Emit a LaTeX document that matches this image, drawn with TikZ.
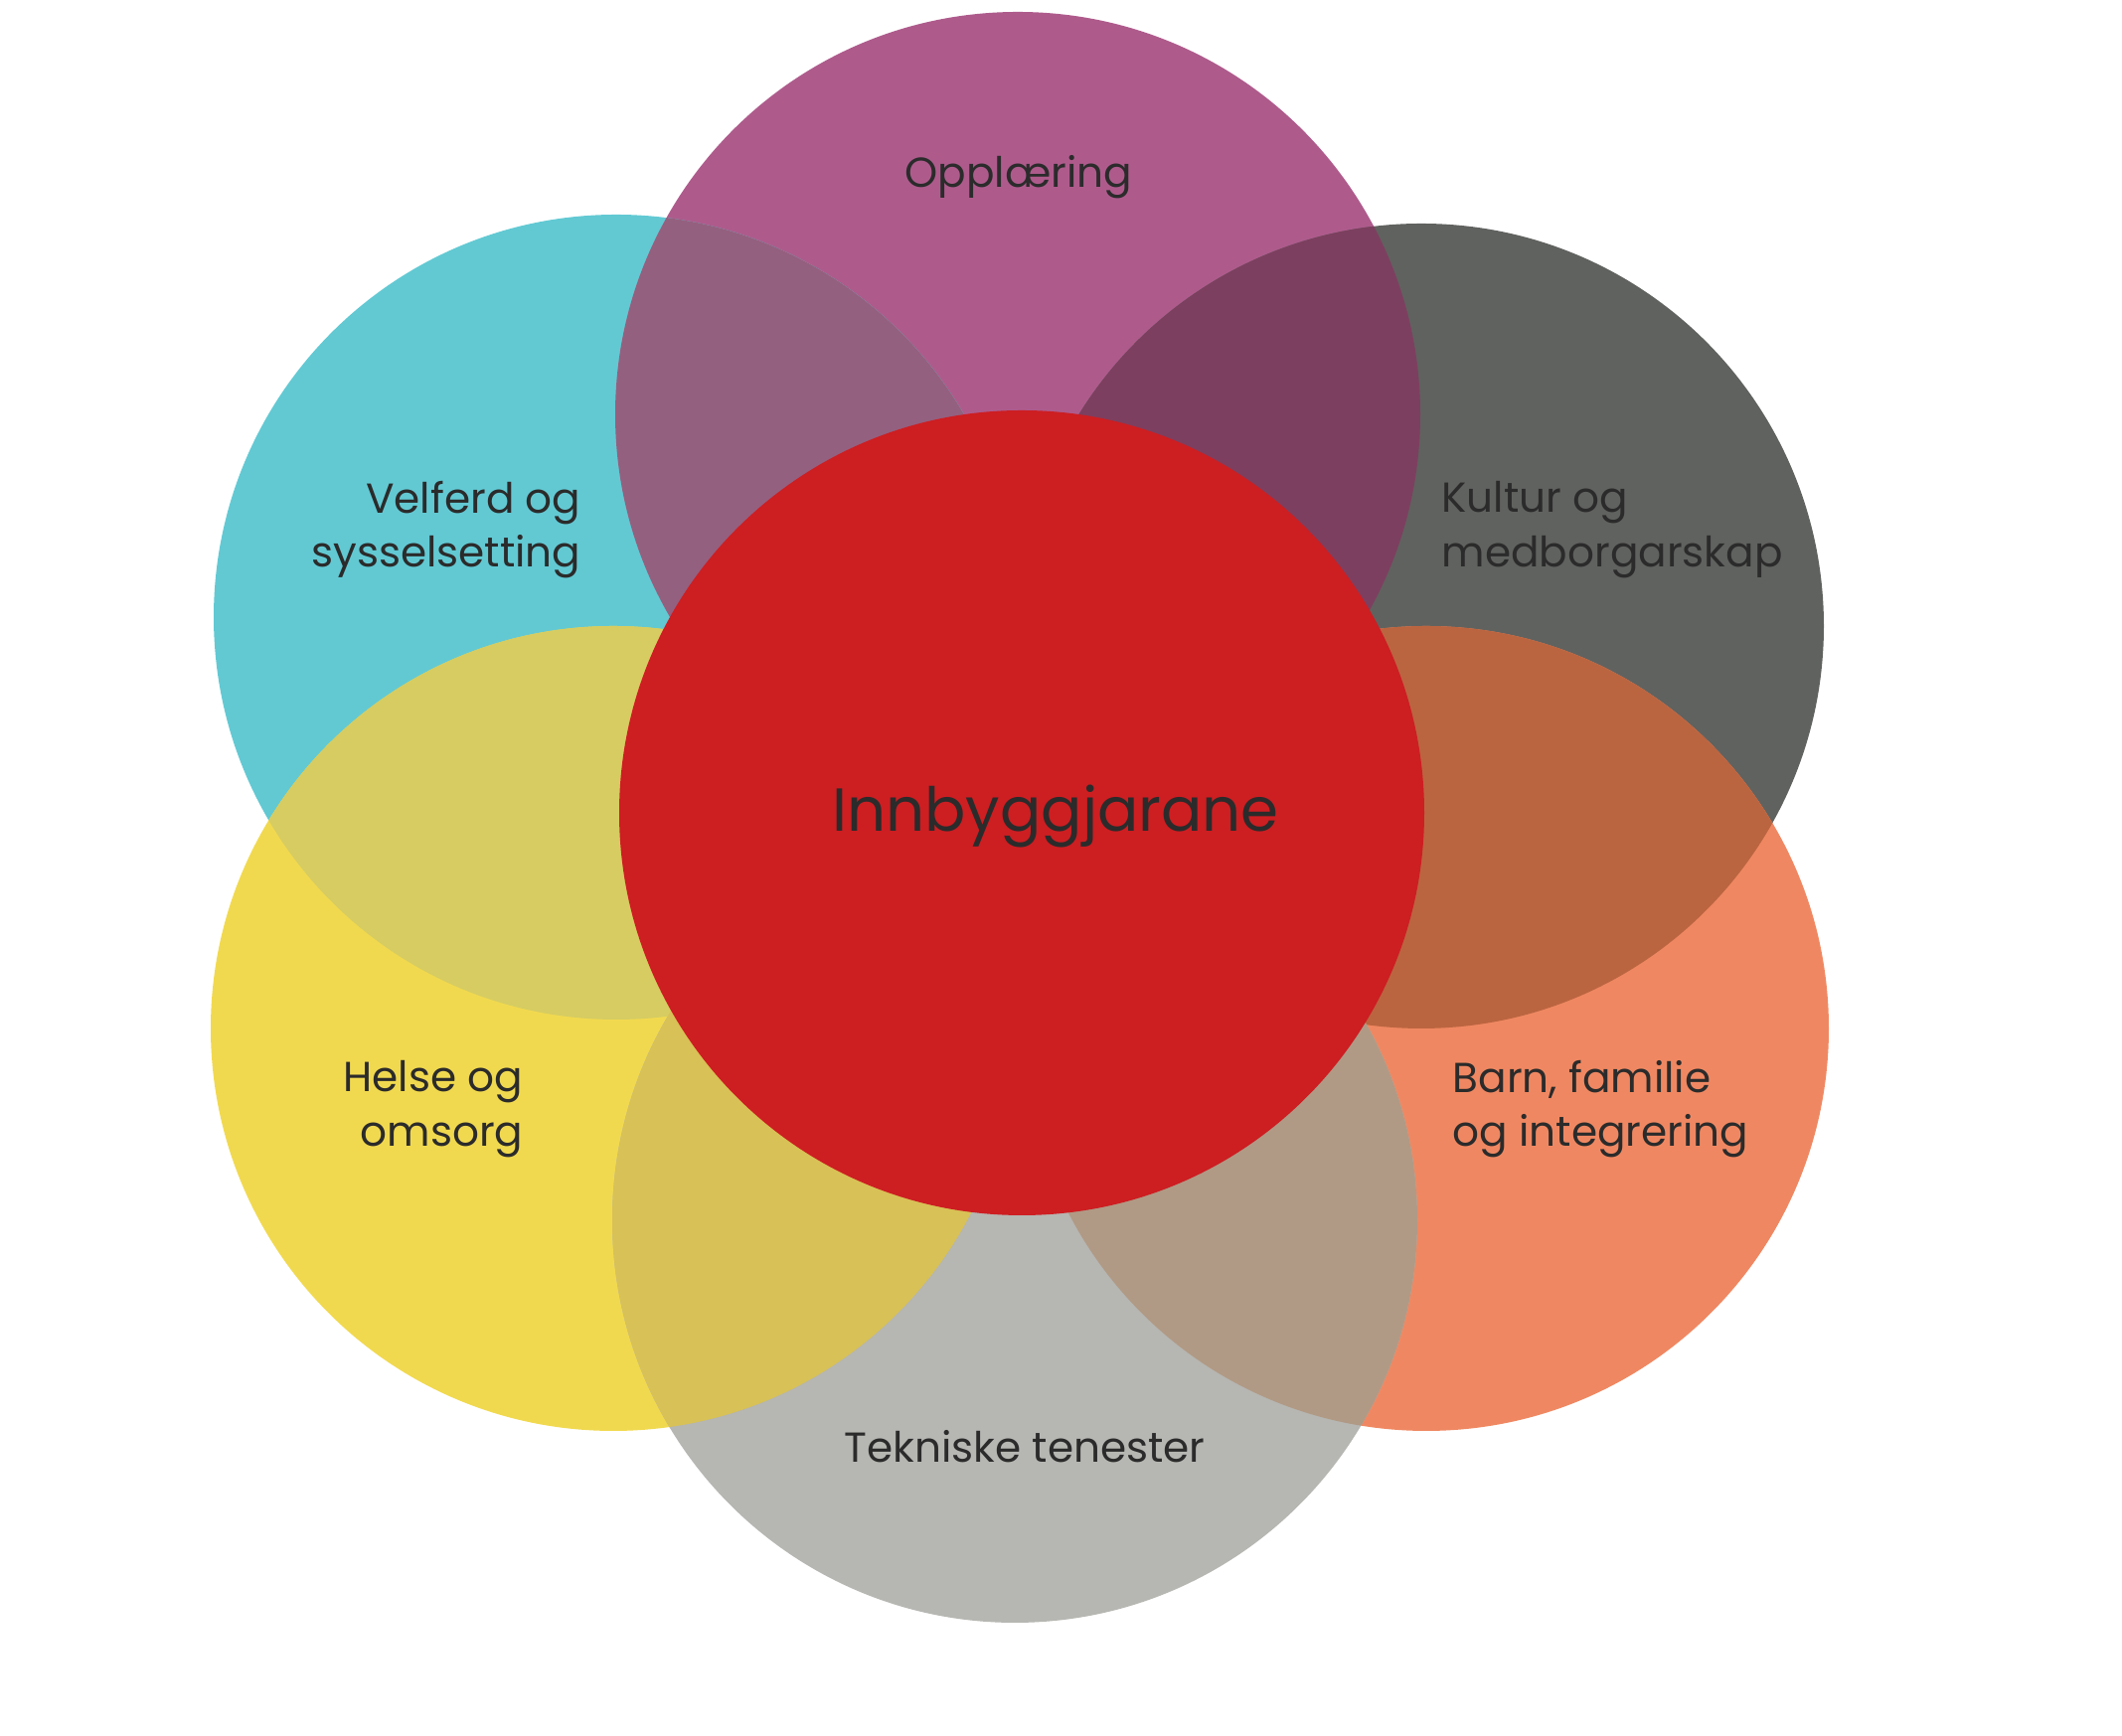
\documentclass[tikz,border=0pt]{standalone}
\usepackage{fontspec}
\setmainfont{Poppins}
\usetikzlibrary{positioning}

\definecolor{oppcol}{HTML}{AE5B8C}
\definecolor{velcol}{HTML}{62C9D3}
\definecolor{kulcol}{HTML}{60625F}
\definecolor{helcol}{HTML}{F1D94F}
\definecolor{barcol}{HTML}{EF8862}
\definecolor{tekcol}{HTML}{B6B6B2}
\definecolor{inncol}{HTML}{CD1E22}
% overlap colours
\definecolor{oppvel}{HTML}{94607F}
\definecolor{oppkul}{HTML}{7D3F5F}
\definecolor{velhel}{HTML}{D6CC62}
\definecolor{kulbar}{HTML}{BB6540}
\definecolor{bartek}{HTML}{B09A85}
\definecolor{heltek}{HTML}{D8C156}
\definecolor{txtcol}{HTML}{2B2B2B}

\def\rad{4.05}

\begin{document}
\begin{tikzpicture}
[label/.style={text=txtcol, inner sep=0pt, font=\fontsize{12}{15.5}\selectfont},
centre/.style={text=txtcol, inner sep=0pt, font=\fontsize{17.4}{21}\selectfont}]

\useasboundingbox (0,0) rectangle (21.35,17.47);

\coordinate (opp) at (10.24,13.30);
\coordinate (vel) at (6.20,11.26);
\coordinate (kul) at (14.30,11.17);
\coordinate (hel) at (6.17,7.12);
\coordinate (bar) at (14.35,7.12);
\coordinate (tek) at (10.21,5.19);
\coordinate (inn) at (10.28,9.29);

\fill[oppcol] (opp) circle (\rad);
\fill[velcol] (vel) circle (\rad);
\fill[kulcol] (kul) circle (\rad);
\fill[helcol] (hel) circle (\rad);
\fill[barcol] (bar) circle (\rad);
\fill[tekcol] (tek) circle (\rad);

{\begin{scope}\clip (opp) circle (\rad); \fill[oppvel] (vel) circle (\rad);\end{scope}}
{\begin{scope}\clip (opp) circle (\rad); \fill[oppkul] (kul) circle (\rad);\end{scope}}
{\begin{scope}\clip (vel) circle (\rad); \fill[velhel] (hel) circle (\rad);\end{scope}}
{\begin{scope}\clip (kul) circle (\rad); \fill[kulbar] (bar) circle (\rad);\end{scope}}
{\begin{scope}\clip (bar) circle (\rad); \fill[bartek] (tek) circle (\rad);\end{scope}}
{\begin{scope}\clip (hel) circle (\rad); \fill[heltek] (tek) circle (\rad);\end{scope}}

\fill[inncol] (inn) circle (\rad);

\node[centre] (innbyggjarane) at (10.62,9.25) {Innbyggjarane};
\node[label] (opplaering) at (10.25,15.69) {Opplæring};
\node[label, align=right, anchor=east] (velferd) at (5.85,12.14) {Velferd og\\sysselsetting};
\node[label, align=left, anchor=west] (kultur) at (14.50,12.14) {Kultur og\\medborgarskap};
\node[label, align=right, anchor=east] (helse) at (5.27,6.31) {Helse og\\omsorg};
\node[label, align=left, anchor=west] (barn) at (14.61,6.31) {Barn, familie\\og integrering};
\node[label] (tekniske) at (10.31,2.91) {Tekniske tenester};
\end{tikzpicture}
\end{document}
